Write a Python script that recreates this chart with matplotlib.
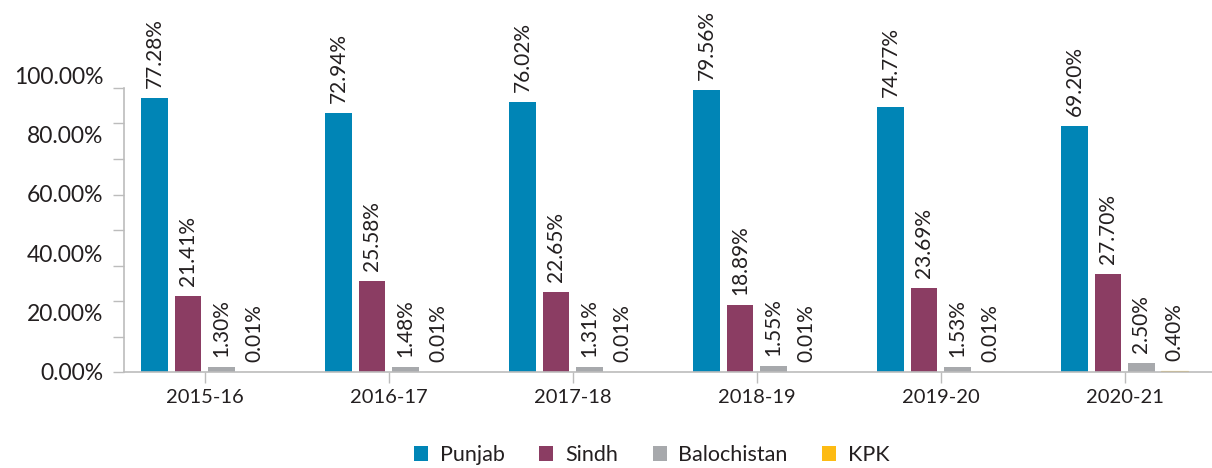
import numpy as np
import matplotlib
matplotlib.use("Agg")
import matplotlib.pyplot as plt
from matplotlib.patches import Patch

plt.rcParams.update({"font.family": ["Lato", "DejaVu Sans"]})

years = ["2015-16", "2016-17", "2017-18", "2018-19", "2019-20", "2020-21"]
provinces = ["Punjab", "Sindh", "Balochistan", "KPK"]
punjab = [77.28, 72.94, 76.02, 79.56, 74.77, 69.20]
sindh = [21.41, 25.58, 22.65, 18.89, 23.69, 27.70]
balochistan = [1.30, 1.48, 1.31, 1.55, 1.53, 2.50]
kpk = [0.01, 0.01, 0.01, 0.01, 0.01, 0.40]
colors = ["#0085b6", "#8b3d63", "#a7a9ac", "#fdbb13"]

# the printed axis labels do not sit on the real gridding of the bars
tick_labels = ["0.00%", "20.00%", "40.00%", "60.00%", "80.00%", "100.00%"]

TXT = "#231f20"
GREY = "#bcbcbc"


def main():
    fig = plt.figure(figsize=(12.12, 4.68), dpi=100)
    ax = fig.add_axes([124 / 1212, 1 - 372 / 468, 1 - 124 / 1212, 355 / 468])

    x = np.arange(len(years))
    step, width = 0.181, 0.145
    for i, (vals, c) in enumerate(zip([punjab, sindh, balochistan, kpk], colors)):
        pos = x + (i - 1.5) * step
        # KPK shares are tiny; a thin edge keeps them visible as in the source
        lw = 0.8 if i == 3 else 0
        ax.bar(pos, vals, width=width, color=c, edgecolor=c, linewidth=lw,
               zorder=2)
        for px, v in zip(pos, vals):
            ax.annotate(f"{v:.2f}%", (px, v), xytext=(0, 7.2),
                        textcoords="offset points", rotation=90,
                        ha="center", va="bottom", fontsize=15, color=TXT)

    ax.set_xlim(-0.439, 5.474)
    ax.set_ylim(0, 100)

    ax.yaxis.remove_overlapping_locs = False
    ax.set_yticks(np.arange(0, 81, 10))
    ax.set_yticklabels([])
    ax.set_yticks(np.linspace(0, 83.6, 6), minor=True)
    ax.set_yticklabels(tick_labels, minor=True)
    ax.tick_params(axis="y", which="major", length=8, width=1, color=GREY,
                   direction="out")
    ax.tick_params(axis="y", which="minor", length=0, pad=15,
                   labelsize=16.5, labelcolor=TXT)

    ax.set_xticks(x)
    ax.set_xticklabels(years)
    ax.tick_params(axis="x", length=8, width=1, color=GREY, pad=4,
                   labelsize=14.5, labelcolor=TXT)

    for s in ("top", "right"):
        ax.spines[s].set_visible(False)
    ax.spines["left"].set_bounds(0, 80)
    for s in ("left", "bottom"):
        ax.spines[s].set_color(GREY)
        ax.spines[s].set_linewidth(1.2)

    handles = [Patch(facecolor=c, label=p) for p, c in zip(provinces, colors)]
    fig.legend(handles=handles, loc="center",
               bbox_to_anchor=(652 / 1212, 1 - 455 / 468),
               ncol=4, frameon=False, fontsize=15.5, handlelength=0.65,
               handleheight=0.65, handletextpad=0.55, columnspacing=1.6,
               labelcolor=TXT)

    fig.savefig("out.png", dpi=100)


if __name__ == "__main__":
    main()
